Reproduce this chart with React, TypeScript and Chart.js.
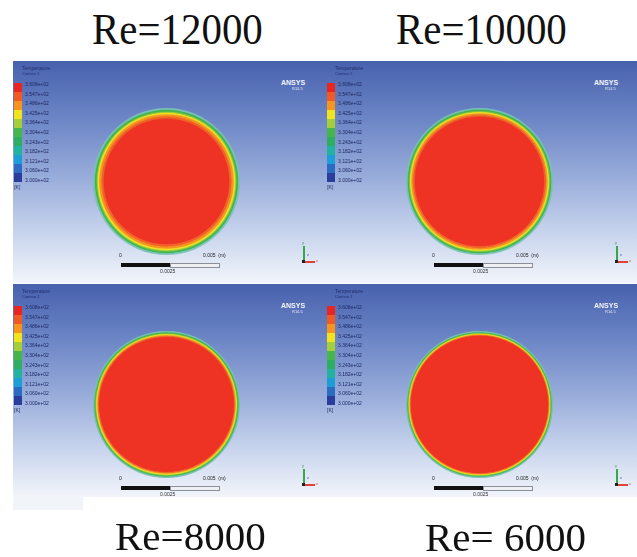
import React, { useEffect, useRef } from "react";
import { Chart, registerables } from "chart.js";
Chart.register(...registerables);

// ---- data ----
const caseTitles = ["Re=12000", "Re=10000", "Re=8000", "Re= 6000"];
const reynolds = [12000, 10000, 8000, 6000];
// thermal boundary-layer bands at the wall (relative thickness, same units as disc radius)
const coolEdge = [1.2, 1.0, 0.7, 0.6];
const greenBand = [2.8, 2.4, 1.8, 1.4];
const yellowBand = [1.6, 1.3, 1.0, 0.8];
const orangeBand = [4.2, 3.2, 1.8, 1.2];
const legendLabels = [
  "3.608e+02", "3.547e+02", "3.486e+02", "3.425e+02", "3.364e+02", "3.304e+02",
  "3.243e+02", "3.182e+02", "3.121e+02", "3.060e+02", "3.000e+02",
];
const legendColors = [
  "#e8251f", "#f15a22", "#f7941d", "#f2e41c", "#a5cf3a", "#45b649",
  "#2fae62", "#22b3a0", "#1e9ed6", "#2b6cc0", "#2b3d9c",
];

const DISC_R = 73;

function Disc({ idx }: { idx: number }) {
  const ref = useRef<HTMLCanvasElement>(null);
  useEffect(() => {
    const core = DISC_R - coolEdge[idx] - greenBand[idx] - yellowBand[idx] - orangeBand[idx];
    const rings = [
      { w: coolEdge[idx], c: "#79c2b6" },
      { w: greenBand[idx] * 0.6, c: "#3db54a" },
      { w: greenBand[idx] * 0.4, c: "#8cc63f" },
      { w: yellowBand[idx], c: "#eee41c" },
      { w: orangeBand[idx] * 0.5, c: "#f7941d" },
      { w: orangeBand[idx] * 0.5, c: "#f26224" },
      { w: core, c: "#ee3224" },
    ];
    const chart = new Chart(ref.current as HTMLCanvasElement, {
      type: "doughnut",
      data: {
        labels: ["Re=" + reynolds[idx]],
        datasets: rings.map((r) => ({
          data: [1],
          backgroundColor: r.c,
          borderColor: r.c,
          borderWidth: 0.6,
          weight: r.w,
        })),
      },
      options: {
        animation: false,
        responsive: false,
        cutout: 0,
        radius: "100%",
        layout: { padding: 0 },
        events: [],
        plugins: { legend: { display: false }, tooltip: { enabled: false } },
      } as any,
    });
    return () => chart.destroy();
  }, [idx]);
  const size = DISC_R * 2 + 1;
  return (
    <canvas
      ref={ref}
      width={size}
      height={size}
      style={{ position: "absolute", left: 159 - DISC_R, top: 120 - DISC_R, width: size, height: size }}
    />
  );
}

const tiny: React.CSSProperties = {
  position: "absolute",
  fontFamily: "Arial, 'Liberation Sans', sans-serif",
  whiteSpace: "nowrap",
  lineHeight: 1,
};

function Panel({ idx, left, top, width, height, shift }: { idx: number; left: number; top: number; width: number; height: number; shift: number }) {
  return (
    <div style={{ position: "absolute", left, top, width, height, overflow: "hidden" }}>
      <div
        style={{
          position: "absolute",
          left: -shift,
          top: 0,
          width: width + shift,
          height,
          background:
            "linear-gradient(180deg, #4861ad 0%, #6a84c5 25%, #98acda 52%, #c9d5ee 78%, #f2f5fa 100%)",
        }}
      >
        {/* legend */}
        <div style={{ ...tiny, left: 15, top: 5, fontSize: 5, color: "#1f2f70" }}>Temperature</div>
        <div style={{ ...tiny, left: 15, top: 11, fontSize: 4, color: "#1f2f70" }}>Contour 1</div>
        {legendColors.map((c, i) => (
          <div
            key={"c" + i}
            style={{ position: "absolute", left: 7, top: 22 + i * 9, width: 8, height: 9, background: c }}
          />
        ))}
        {legendLabels.map((l, i) => (
          <div key={"l" + i} style={{ ...tiny, left: 18, top: 21 + i * 9.6, fontSize: 5, color: "#1c2a66" }}>
            {l}
          </div>
        ))}
        <div style={{ ...tiny, left: 7, top: 124, fontSize: 5, color: "#1c2a66" }}>[K]</div>
        {/* ANSYS logo */}
        <div style={{ ...tiny, left: 274, top: 18, fontSize: 7, fontWeight: 700, color: "#f4f6fb" }}>ANSYS</div>
        <div style={{ ...tiny, left: 285, top: 26, fontSize: 4, color: "#e6ebf6" }}>R14.5</div>
        {/* disc */}
        <Disc idx={idx} />
        {/* scale bar */}
        <div style={{ ...tiny, left: 112, top: 192, fontSize: 5, color: "#222" }}>0</div>
        <div style={{ ...tiny, left: 196, top: 192, fontSize: 5, color: "#222" }}>0.005 &nbsp;(m)</div>
        <div style={{ position: "absolute", left: 114, top: 202, width: 49, height: 4, background: "#111" }} />
        <div
          style={{
            position: "absolute",
            left: 163,
            top: 202,
            width: 48,
            height: 3,
            border: "0.5px solid #8a8f99",
            background: "#eef0f4",
          }}
        />
        <div style={{ ...tiny, left: 153, top: 208, fontSize: 5, color: "#333" }}>0.0025</div>
        {/* axis triad */}
        <div style={{ position: "absolute", left: 296, top: 185, width: 1.5, height: 16, background: "#3aa64a" }} />
        <div style={{ position: "absolute", left: 296, top: 200, width: 12, height: 1.5, background: "#e0413a" }} />
        <div style={{ position: "absolute", left: 295, top: 199, width: 3, height: 3, background: "#222" }} />
        <div style={{ ...tiny, left: 300, top: 192, fontSize: 4, color: "#2a55c8" }}>z</div>
        <div style={{ ...tiny, left: 295, top: 180, fontSize: 4, color: "#3aa64a" }}>y</div>
        <div style={{ ...tiny, left: 309, top: 198, fontSize: 4, color: "#e0413a" }}>x</div>
      </div>
    </div>
  );
}

const titleStyle: React.CSSProperties = {
  position: "absolute",
  fontFamily: "'Liberation Serif', 'Times New Roman', serif",
  lineHeight: 1,
  color: "#111",
  whiteSpace: "pre",
  transformOrigin: "left top",
};

export default function App() {
  return (
    <div style={{ position: "absolute", left: 0, top: 0, width: 637, height: 557, background: "#fff", overflow: "hidden" }}>
      <div style={{ ...titleStyle, left: 92, top: 8, fontSize: 44, transform: "scaleX(0.93)" }}>{caseTitles[0]}</div>
      <div style={{ ...titleStyle, left: 396, top: 8, fontSize: 44, transform: "scaleX(0.93)" }}>{caseTitles[1]}</div>
      <Panel idx={0} left={13} top={61} width={307} height={222} shift={6} />
      <Panel idx={1} left={320} top={61} width={317} height={222} shift={0} />
      <div style={{ position: "absolute", left: 13, top: 497, width: 70, height: 13, background: "#f1f4f9" }} />
      <Panel idx={2} left={13} top={284} width={307} height={213} shift={6} />
      <Panel idx={3} left={320} top={284} width={317} height={213} shift={0} />
      <div style={{ ...titleStyle, left: 115, top: 516, fontSize: 41 }}>{caseTitles[2]}</div>
      <div style={{ ...titleStyle, left: 425, top: 517, fontSize: 41 }}>{caseTitles[3]}</div>
    </div>
  );
}
